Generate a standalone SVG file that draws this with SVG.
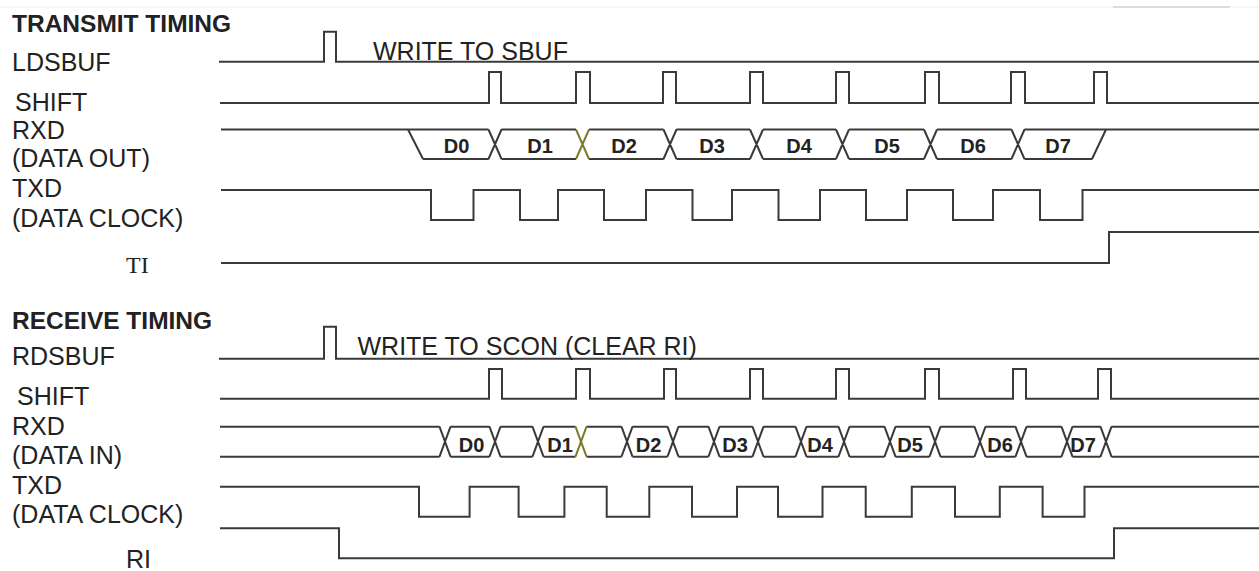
<svg xmlns="http://www.w3.org/2000/svg" width="1259" height="571" viewBox="0 0 1259 571">
<style>
text{font-family:"Liberation Sans",Arial,sans-serif;fill:#222}
.lbl{font-size:25px}
.ttl{font-size:24.5px;font-weight:bold}
.ser{font-family:"Liberation Serif","Times New Roman",serif;font-size:24px}
.d{font-size:20px;font-weight:bold;text-anchor:middle}
.w{fill:none;stroke:#3a3a3a;stroke-width:2;stroke-linejoin:miter}
.ol{fill:none;stroke:#7a7a2a;stroke-width:2}
</style>
<rect width="1259" height="571" fill="#fff"/>
<g id="frame">
<path d="M0,7H1259" stroke="#f4f4f4" stroke-width="1.5"/>
<path d="M1113,7H1230" stroke="#dcdcdc" stroke-width="2"/>
</g>

<g id="transmit">
<text class="ttl" x="12" y="32">TRANSMIT TIMING</text>
<g id="tx-ldsbuf">
<text class="lbl" x="12" y="70.5">LDSBUF</text>
<path class="w" d="M219,61.7H324V31.7H336V61.7H1259"/>
<text class="lbl" x="373" y="60">WRITE TO SBUF</text>
</g>
<g id="tx-shift">
<text class="lbl" x="15" y="111">SHIFT</text>
<path class="w" d="M220,103H489V72H501V103H576V72H590V103H663V72H676V103H750V72H763V103H836V72H849V103H925V72H939V103H1011V72H1025V103H1094V72H1107V103H1259"/>
</g>
<g id="tx-rxd">
<text class="lbl" x="12" y="139">RXD</text>
<text class="lbl" x="12" y="166.5">(DATA OUT)</text>
<path class="w" d="M221,129.5H488.5M501.5,129.5H576M589,129.5H663.5M676.5,129.5H750M763,129.5H836M849,129.5H924M937,129.5H1011.5M1024.5,129.5H1259
M423,159H488.5M501.5,159H576M589,159H663.5M676.5,159H750M763,159H836M849,159H924M937,159H1011.5M1024.5,159H1092
M408,129.5L423,159M1092,159L1106,129.5
M488.5,129.5L501.5,159M488.5,159L501.5,129.5
M663.5,129.5L676.5,159M663.5,159L676.5,129.5
M750,129.5L763,159M750,159L763,129.5
M836,129.5L849,159M836,159L849,129.5
M924,129.5L937,159M924,159L937,129.5
M1011.5,129.5L1024.5,159M1011.5,159L1024.5,129.5"/>
<path class="ol" d="M576,129.5L589,159M576,159L589,129.5"/>
<text class="d" x="456.5" y="153">D0</text>
<text class="d" x="540" y="153">D1</text>
<text class="d" x="624" y="153">D2</text>
<text class="d" x="712" y="153">D3</text>
<text class="d" x="799" y="153">D4</text>
<text class="d" x="887" y="153">D5</text>
<text class="d" x="973" y="153">D6</text>
<text class="d" x="1058" y="153">D7</text>
</g>
<g id="tx-txd">
<text class="lbl" x="12" y="197">TXD</text>
<text class="lbl" x="12" y="226.5">(DATA CLOCK)</text>
<path class="w" d="M221,190H431V220H473.5V190H520V220H558V190H604V220H646V190H692.5V220H732V190H778.5V220H820V190H866V220H907V190H953V220H993V190H1040V220H1082.5V190H1259"/>
</g>
<g id="tx-ti">
<text class="ser" x="126" y="273">TI</text>
<path class="w" d="M221,263H1109V232H1259"/>
</g>
</g>

<g id="receive">
<text class="ttl" x="12" y="329">RECEIVE TIMING</text>
<g id="rx-rdsbuf">
<text class="lbl" x="12" y="365">RDSBUF</text>
<path class="w" d="M219,358.7H324V326.7H336V358.7H1259"/>
<text class="lbl" x="357.5" y="355">WRITE TO SCON (CLEAR RI)</text>
</g>
<g id="rx-shift">
<text class="lbl" x="17" y="405">SHIFT</text>
<path class="w" d="M220,398.7H489V369H502V398.7H576V369H590V398.7H664V369H676V398.7H750V369H763V398.7H836V369H849V398.7H925V369H939V398.7H1013V369H1026V398.7H1098V369H1111V398.7H1259"/>
</g>
<g id="rx-rxd">
<text class="lbl" x="12" y="435">RXD</text>
<text class="lbl" x="12" y="464">(DATA IN)</text>
<path class="w" d="M220,426.7H439.5M450.5,426.7H489.5M500.5,426.7H532.5M543.5,426.7H575.5M586.5,426.7H621.5M632.5,426.7H667.5M678.5,426.7H708.5M719.5,426.7H752.5M763.5,426.7H795.5M806.5,426.7H838.5M849.5,426.7H884.5M895.5,426.7H929.5M940.5,426.7H974.5M985.5,426.7H1015.5M1026.5,426.7H1061.5M1072.5,426.7H1100.5M1111.5,426.7H1259
M220,456.7H439.5M450.5,456.7H489.5M500.5,456.7H532.5M543.5,456.7H575.5M586.5,456.7H621.5M632.5,456.7H667.5M678.5,456.7H708.5M719.5,456.7H752.5M763.5,456.7H795.5M806.5,456.7H838.5M849.5,456.7H884.5M895.5,456.7H929.5M940.5,456.7H974.5M985.5,456.7H1015.5M1026.5,456.7H1061.5M1072.5,456.7H1100.5M1111.5,456.7H1259
M439.5,426.7L450.5,456.7M439.5,456.7L450.5,426.7
M489.5,426.7L500.5,456.7M489.5,456.7L500.5,426.7
M532.5,426.7L543.5,456.7M532.5,456.7L543.5,426.7
M621.5,426.7L632.5,456.7M621.5,456.7L632.5,426.7
M667.5,426.7L678.5,456.7M667.5,456.7L678.5,426.7
M708.5,426.7L719.5,456.7M708.5,456.7L719.5,426.7
M752.5,426.7L763.5,456.7M752.5,456.7L763.5,426.7
M795.5,426.7L806.5,456.7M795.5,456.7L806.5,426.7
M838.5,426.7L849.5,456.7M838.5,456.7L849.5,426.7
M884.5,426.7L895.5,456.7M884.5,456.7L895.5,426.7
M929.5,426.7L940.5,456.7M929.5,456.7L940.5,426.7
M974.5,426.7L985.5,456.7M974.5,456.7L985.5,426.7
M1015.5,426.7L1026.5,456.7M1015.5,456.7L1026.5,426.7
M1061.5,426.7L1072.5,456.7M1061.5,456.7L1072.5,426.7
M1100.5,426.7L1111.5,456.7M1100.5,456.7L1111.5,426.7"/>
<path class="ol" d="M575.5,426.7L586.5,456.7M575.5,456.7L586.5,426.7"/>
<text class="d" x="471.5" y="451.5">D0</text>
<text class="d" x="560" y="451.5">D1</text>
<text class="d" x="648.5" y="451.5">D2</text>
<text class="d" x="735" y="451.5">D3</text>
<text class="d" x="820" y="451.5">D4</text>
<text class="d" x="910" y="451.5">D5</text>
<text class="d" x="1000" y="451.5">D6</text>
<text class="d" x="1083" y="451.5">D7</text>
</g>
<g id="rx-txd">
<text class="lbl" x="12" y="494">TXD</text>
<text class="lbl" x="12" y="523">(DATA CLOCK)</text>
<path class="w" d="M220,486.7H419V516.7H469.6V486.7H518.6V516.7H564.4V486.7H606.7V516.7H649.3V486.7H692V516.7H737V486.7H778V516.7H822.5V486.7H865.7V516.7H911.8V486.7H955V516.7H999.8V486.7H1042.6V516.7H1084.5V486.7H1259"/>
</g>
<g id="rx-ri">
<text class="lbl" x="126" y="568">RI</text>
<path class="w" d="M220,528.3H339V558.3H1114V528.3H1259"/>
</g>
</g>
<g id="connectors"/>
</svg>
